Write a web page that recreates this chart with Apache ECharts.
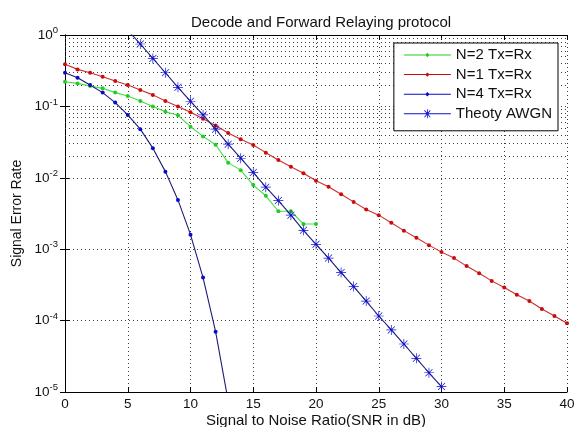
<!DOCTYPE html>
<html>
<head>
<meta charset="utf-8">
<title>Decode and Forward Relaying protocol</title>
<script src="https://cdn.jsdelivr.net/npm/echarts@6/dist/echarts.min.js"></script>
<style>
  html, body { margin: 0; padding: 0; background: #fff; }
  #chart { width: 574px; height: 427px; }
</style>
</head>
<body>
<div id="chart"></div>
<script>
// SNR (dB) values for each curve
const snrN1 = [0,1,2,3,4,5,6,7,8,9,10,11,12,13,14,15,16,17,18,19,20,21,22,23,24,25,26,27,28,29,30,31,32,33,34,35,36,37,38,39,40]
const snrN2 = [0,1,2,3,4,5,6,7,8,9,10,11,12,13,14,15,16,17,18,19,20]
const snrN4 = [0,1,2,3,4,5,6,7,8,9,10,11,12,13]
const snrAwgn = [5,6,7,8,9,10,11,12,13,14,15,16,17,18,19,20,21,22,23,24,25,26,27,28,29,30]

// error rates
const berN2 = [0.222, 0.21, 0.193, 0.179, 0.156, 0.14, 0.119, 0.1, 0.084, 0.075, 0.052,
  0.038, 0.029, 0.0163, 0.0128, 0.0079, 0.0056, 0.0034, 0.0034, 0.00225, 0.00225]
const berN1 = [0.389, 0.33, 0.296, 0.26, 0.227, 0.2, 0.17, 0.145, 0.119, 0.1, 0.083,
  0.067, 0.054, 0.0425, 0.0346, 0.0288, 0.0225, 0.0178, 0.0143, 0.0116, 0.0091,
  0.0075, 0.0059, 0.0046, 0.0036, 0.003, 0.00235, 0.00182, 0.00145, 0.00114, 0.00091,
  0.00075, 0.00058, 0.00046, 0.00036, 0.00029, 0.00023, 0.000188, 0.000145, 0.000116, 0.000092]
const berN4 = [0.296, 0.252, 0.2, 0.156, 0.113, 0.076, 0.048, 0.026, 0.0122, 0.0049,
  0.0016, 0.0004, 0.00007, 0.0000075]
const berAwgn = [1.17, 0.748, 0.47, 0.296, 0.185, 0.118, 0.076, 0.048, 0.0296, 0.0188,
  0.0119, 0.0074, 0.0048, 0.003, 0.00184, 0.00117, 0.00075, 0.00047, 0.0003, 0.000188,
  0.000116, 0.000074, 0.000047, 0.0000296, 0.0000186, 0.0000119]

const seriesNames = ['N=2 Tx=Rx', 'N=1 Tx=Rx', 'N=4 Tx=Rx', 'Theoty AWGN']
const xTicks = [0, 5, 10, 15, 20, 25, 30, 35, 40]
const decadeExps = [0, -1, -2, -3, -4, -5]
const minorMant = [2, 3, 4, 5, 6, 7, 8, 9]

const FONT = 'Liberation Sans, Arial, Helvetica, sans-serif'

// matlab style '*' marker
const STAR = 'path://M0 9.3L20 9.3L20 10.7L0 10.7Z M9.3 0L10.7 0L10.7 20L9.3 20Z' +
  'M2.5 3.5L3.5 2.5L17.5 16.5L16.5 17.5Z M16.5 2.5L17.5 3.5L3.5 17.5L2.5 16.5Z'
// legend icons: line with marker, in a 47x10 box (tiny corner dots keep the box size)
const BOX = 'M0 0L0.05 0L0 0.05Z M47 10L46.95 10L47 9.95Z '
const ICON_DOT = 'path://' + BOX + 'M0 4.5L47 4.5L47 5.5L0 5.5Z M21.3 5L23.5 2.8L25.7 5L23.5 7.2Z'
const ICON_STAR = 'path://' + BOX + 'M0 4.5L47 4.5L47 5.5L0 5.5Z' +
  'M19 4.6L28 4.6L28 5.4L19 5.4Z M23.1 0.5L23.9 0.5L23.9 9.5L23.1 9.5Z' +
  'M20.3 1.9L20.9 1.3L26.7 8.1L26.1 8.7Z M26.1 1.3L26.7 1.9L20.9 8.7L20.3 8.1Z'

const minorLines = []
decadeExps.slice(1).forEach(e => {
  minorMant.forEach(m => minorLines.push({ yAxis: m * Math.pow(10, e) }))
})

const pairs = (xs, ys) => xs.map((x, i) => [x, ys[i]])

const chart = echarts.init(document.getElementById('chart'), null, { renderer: 'canvas' })

const dotted = { type: [1, 3], color: '#3a3a3a', width: 1 }

const option = {
  animation: false,
  backgroundColor: '#fff',
  title: {
    text: 'Decode and Forward Relaying protocol',
    left: 186,
    top: 10,
    textStyle: { fontFamily: FONT, fontSize: 15, fontWeight: 'normal', color: '#111' }
  },
  legend: {
    orient: 'vertical',
    right: 16,
    top: 43,
    backgroundColor: '#fff',
    borderColor: '#000',
    borderWidth: 1,
    borderRadius: 0,
    padding: [3, 6, 8, 10],
    itemWidth: 47,
    itemHeight: 10,
    itemGap: 1.6,
    itemTextGap: 2,
    itemStyle: { borderWidth: 0 },
    textStyle: { fontFamily: FONT, fontSize: 15, color: '#111', lineHeight: 18 },
    data: [
      { name: seriesNames[0], icon: ICON_DOT },
      { name: seriesNames[1], icon: ICON_DOT },
      { name: seriesNames[2], icon: ICON_DOT },
      { name: seriesNames[3], icon: ICON_STAR }
    ]
  },
  grid: { left: 65, right: 7, top: 35, bottom: 35, containLabel: false, outerBoundsMode: 'none' },
  xAxis: [{
    type: 'value',
    min: 0,
    max: 40,
    interval: 5,
    name: 'Signal to Noise Ratio(SNR in dB)',
    nameLocation: 'middle',
    nameGap: 21,
    nameMoveOverlap: false,
    nameTextStyle: { fontFamily: FONT, fontSize: 15, color: '#111', verticalAlign: 'top' },
    axisLine: { show: true, lineStyle: { color: '#000', width: 1 } },
    axisTick: { show: true, inside: true, length: 5, lineStyle: { color: '#000' } },
    axisLabel: {
      margin: 5,
      fontFamily: FONT,
      fontSize: 13.5,
      color: '#111',
      formatter: v => (xTicks.indexOf(v) >= 0 ? String(v) : '')
    },
    splitLine: { show: true, lineStyle: dotted }
  }, {
    type: 'value',
    position: 'top',
    min: 0,
    max: 40,
    interval: 5,
    axisLine: { show: true, lineStyle: { color: '#000', width: 1 } },
    axisTick: { show: true, inside: true, length: 5, lineStyle: { color: '#000' } },
    axisLabel: { show: false },
    splitLine: { show: false }
  }],
  yAxis: [{
    type: 'log',
    logBase: 10,
    min: 1e-5,
    max: 1,
    splitNumber: 5,
    name: 'Signal Error Rate',
    nameLocation: 'middle',
    nameGap: 41,
    nameMoveOverlap: false,
    nameTextStyle: { fontFamily: FONT, fontSize: 14, color: '#111' },
    axisLine: { show: true, lineStyle: { color: '#000', width: 1 } },
    axisTick: { show: true, inside: true, length: 5, lineStyle: { color: '#000' } },
    axisLabel: {
      margin: 7,
      color: '#111',
      formatter: v => {
        const e = Math.round(Math.log10(v))
        return decadeExps.indexOf(e) >= 0 ? '{b|10}{s|' + e + '}' : ''
      },
      rich: {
        b: { fontFamily: FONT, fontSize: 13.5, color: '#111' },
        s: { fontFamily: FONT, fontSize: 9.5, color: '#111', padding: [0, 0, 9, 0] }
      }
    },
    splitLine: { show: true, lineStyle: dotted }
  }, {
    type: 'log',
    logBase: 10,
    min: 1e-5,
    max: 1,
    splitNumber: 5,
    position: 'right',
    axisLine: { show: true, lineStyle: { color: '#000', width: 1 } },
    axisTick: { show: true, inside: true, length: 5, lineStyle: { color: '#000' } },
    axisLabel: { show: false },
    splitLine: { show: false }
  }],
  series: [{
    name: seriesNames[0],
    type: 'line',
    data: pairs(snrN2, berN2),
    symbol: 'circle',
    symbolSize: 4,
    itemStyle: { color: '#22cc22' },
    lineStyle: { color: '#44dd44', width: 1.1 },
    z: 3
  }, {
    name: seriesNames[1],
    type: 'line',
    data: pairs(snrN1, berN1),
    symbol: 'circle',
    symbolSize: 4,
    itemStyle: { color: '#cc0a0a' },
    lineStyle: { color: '#c83030', width: 1.1 },
    z: 3,
    markLine: {
      silent: true,
      animation: false,
      symbol: ['none', 'none'],
      label: { show: false },
      lineStyle: dotted,
      data: minorLines,
      z: 1
    }
  }, {
    name: seriesNames[2],
    type: 'line',
    data: pairs(snrN4, berN4),
    symbol: 'circle',
    symbolSize: 4,
    itemStyle: { color: '#0a0acc' },
    lineStyle: { color: '#1c1c78', width: 1.1 },
    z: 3
  }, {
    name: seriesNames[3],
    type: 'line',
    data: pairs(snrAwgn, berAwgn),
    symbol: STAR,
    symbolSize: 10,
    symbolKeepAspect: true,
    itemStyle: { color: '#1010d0' },
    lineStyle: { color: '#1c1c78', width: 1.1 },
    z: 4
  }]
}

chart.setOption(option)
</script>
</body>
</html>
